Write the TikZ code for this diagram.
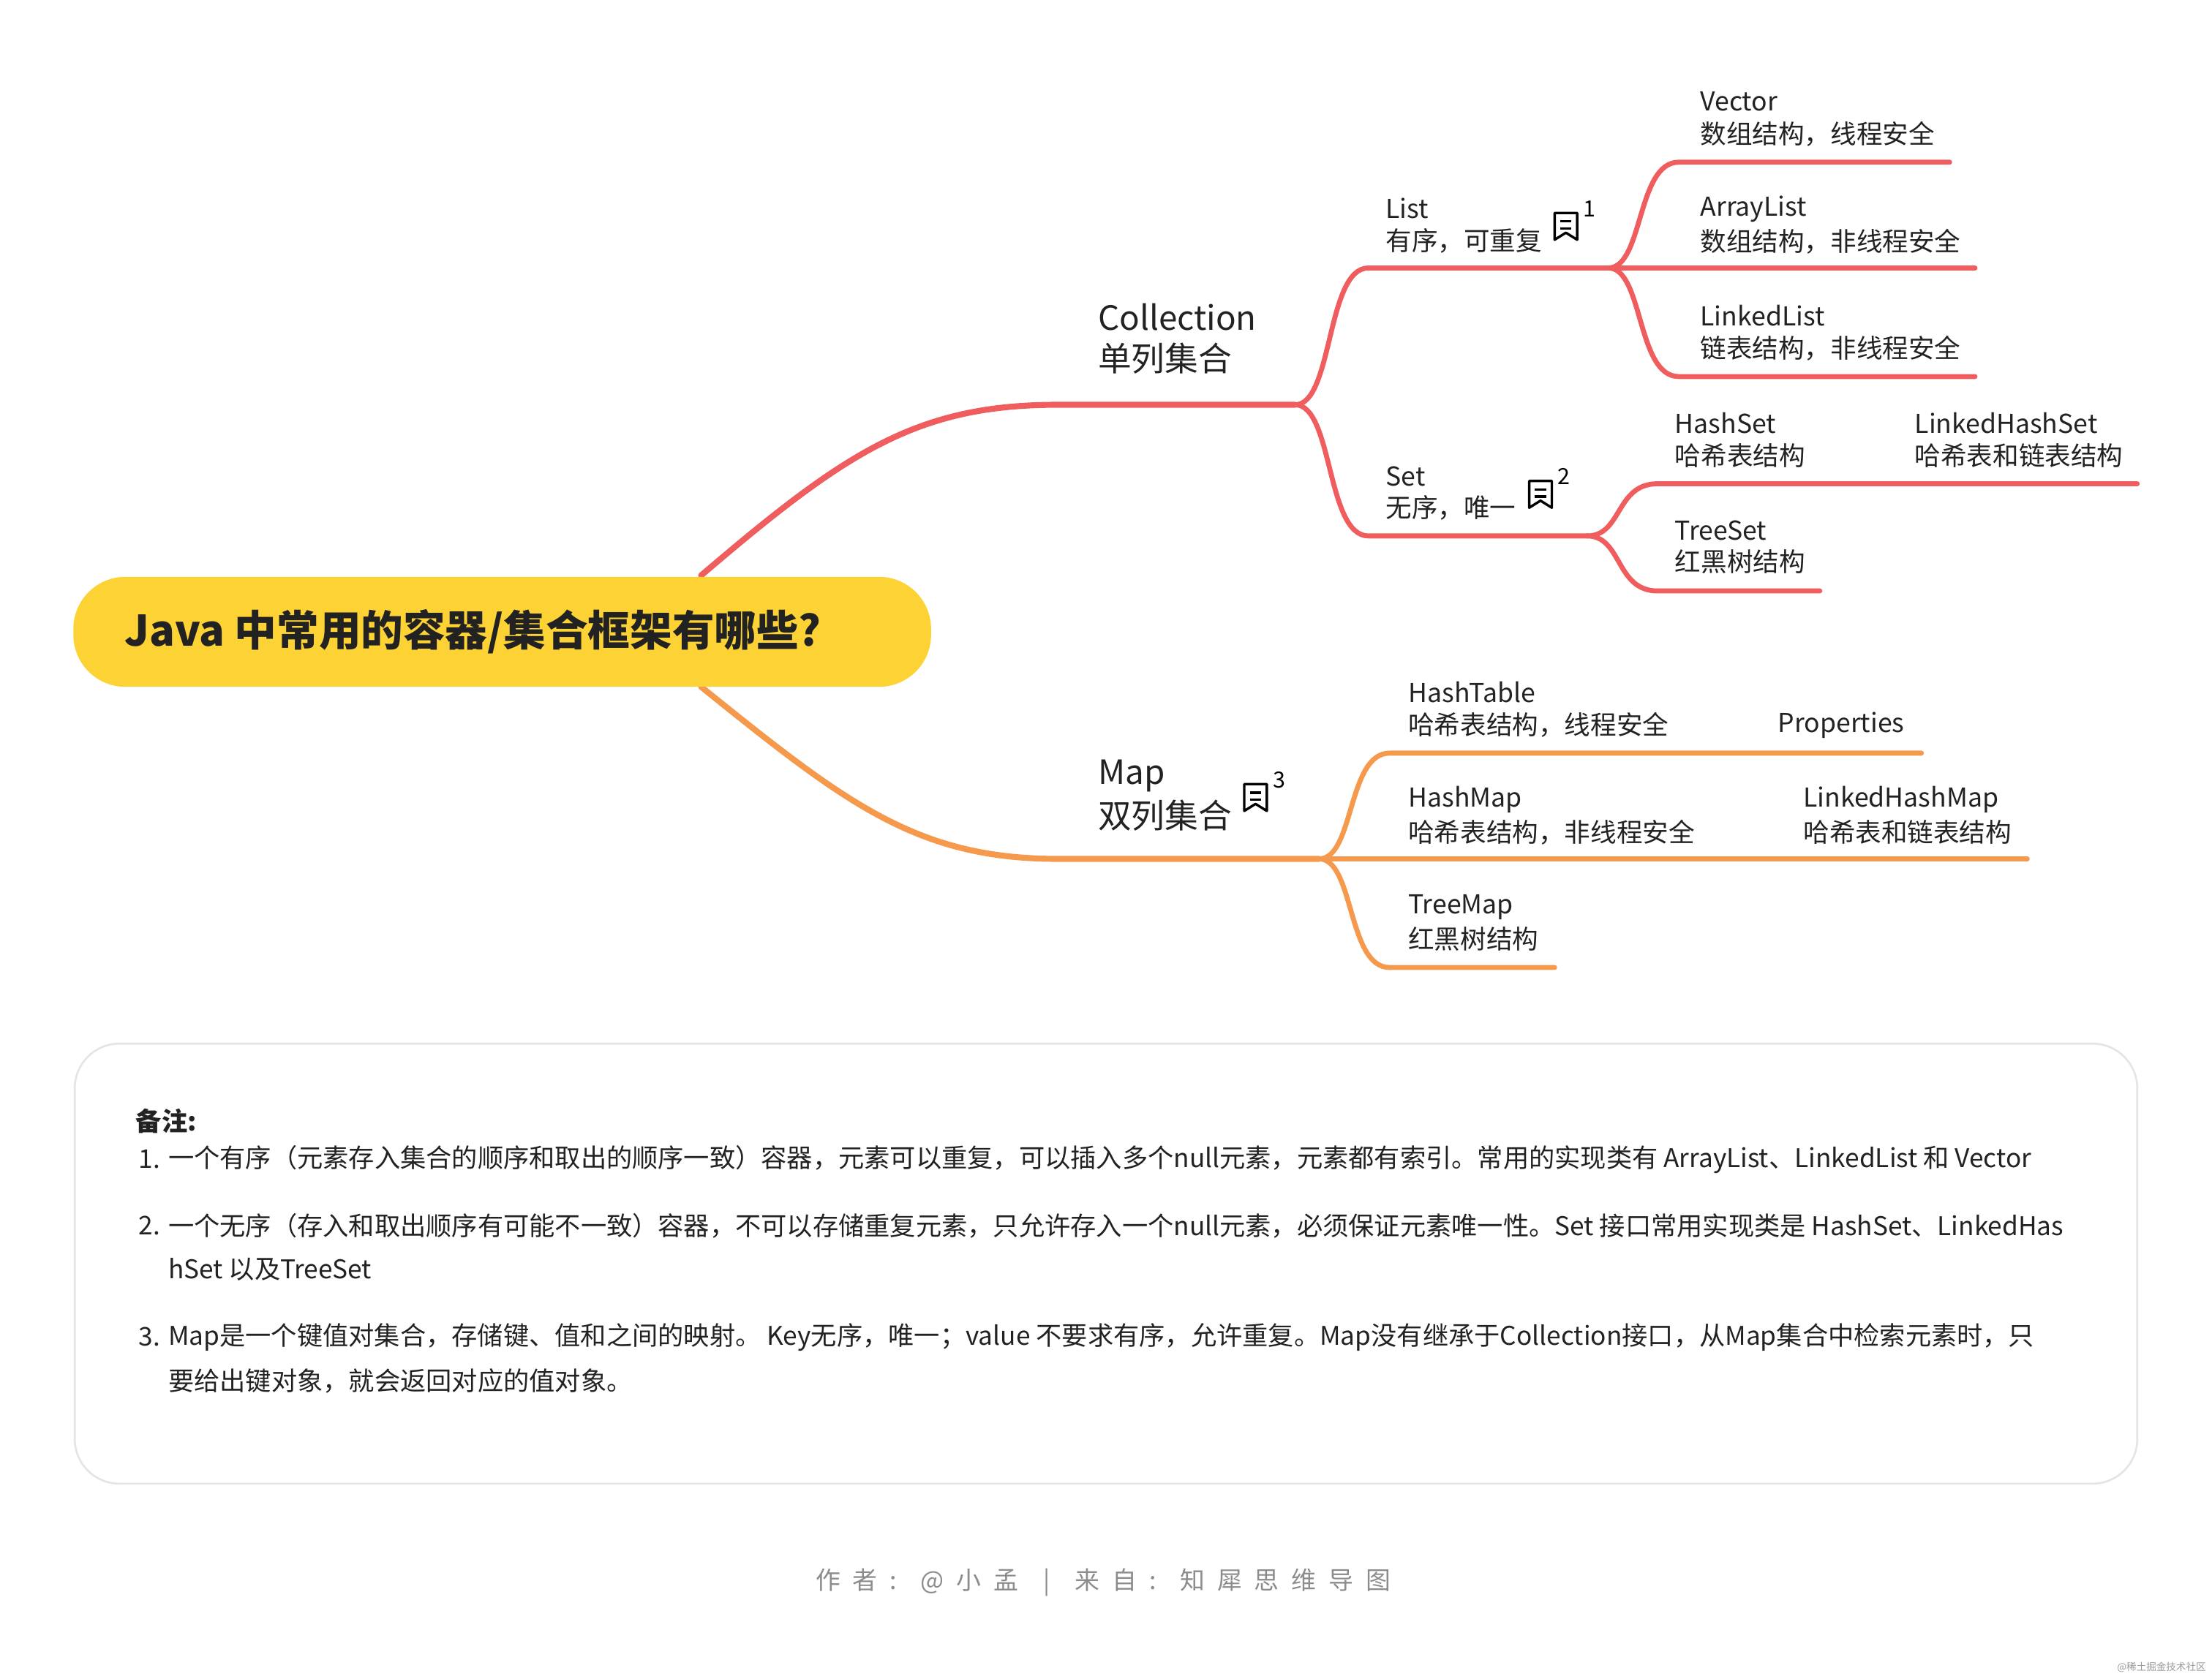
\documentclass[tikz,border=0pt]{standalone}
\usepackage{fontspec}
\setmainfont{Noto Sans CJK SC}
\definecolor{cred}{HTML}{EF5D5E}
\definecolor{corg}{HTML}{F5994C}
\definecolor{cyel}{HTML}{FCD234}
\definecolor{ctxt}{HTML}{222222}
\newcommand\noteicon[3]{%
  \draw[line width=1pt,line join=round] (#1-8,#2-9) -- (#1+8,#2-9) -- (#1+8,#2+10) -- (#1,#2+5) -- (#1-8,#2+10) -- cycle;
  \draw[line width=1pt] (#1-4,#2-3) -- (#1+4,#2-3) (#1-4,#2+2) -- (#1+4,#2+2);
  \node[anchor=west,inner sep=0pt,font=\fontsize{9}{10}\selectfont] at (#1+12,#2-12) {#3};}
\begin{document}
\begin{tikzpicture}[x=0.02cm,y=-0.02cm,
  lbl/.style={anchor=west,inner sep=0pt,text=ctxt,font=\fontsize{10.5}{12}\selectfont},
  big/.style={anchor=west,inner sep=0pt,text=ctxt,font=\fontsize{13.5}{15}\selectfont},
  note/.style={anchor=west,inner sep=0pt,text=ctxt,font=\fontsize{10.4}{12}\selectfont},
  rl/.style={cred,line width=2pt,line cap=round},
  ol/.style={corg,line width=2pt,line cap=round}]
\useasboundingbox (0,0) rectangle (1568,1190);
% branches
\coordinate (c0) at (497,408); \coordinate (c1) at (750,287); \coordinate (c2) at (918,287);
\draw[rl,line width=2.4pt] (c0) .. controls (600,320) and (650,287) .. (c1) -- (c2);
\coordinate (l1) at (1140,190); \coordinate (s1) at (1125,380);
\draw[rl] (c2) .. controls (945,287) and (940,190) .. (970,190) -- (l1);
\draw[rl] (c2) .. controls (945,287) and (940,380) .. (970,380) -- (s1);
\draw[rl] (l1) .. controls (1165,190) and (1160,115) .. (1190,115) -- (1382,115);
\draw[rl] (l1) -- (1400,190);
\draw[rl] (l1) .. controls (1165,190) and (1160,267) .. (1190,267) -- (1400,267);
\draw[rl] (s1) .. controls (1150,380) and (1145,343) .. (1175,343) -- (1515,343);
\draw[rl] (s1) .. controls (1150,380) and (1145,419) .. (1175,419) -- (1290,419);
\coordinate (m0) at (497,487); \coordinate (m1) at (750,609); \coordinate (m2) at (935,609);
\draw[ol,line width=2.4pt] (m0) .. controls (600,570) and (650,609) .. (m1) -- (m2);
\draw[ol] (m2) .. controls (960,609) and (955,534) .. (985,534) -- (1362,534);
\draw[ol] (m2) -- (1437,609);
\draw[ol] (m2) .. controls (960,609) and (955,686) .. (985,686) -- (1102,686);
% root
\node[fill=cyel,rounded corners=21pt,minimum width=608*0.02cm,minimum height=78*0.02cm,inner sep=0pt] (root) at (356,448) {};
\node[anchor=west,inner sep=0pt,font=\fontsize{17}{20}\selectfont\bfseries,text=ctxt] (rt) at (88,448) {Java 中常用的容器/集合框架有哪些?};
% labels
\node[big] (coll) at (778,225) {Collection};
\node[big] (coll2) at (778,254) {单列集合};
\node[big] (map) at (778,550) {Map};
\node[big] (map2) at (778,578) {双列集合};
\noteicon{890}{565}{3}
\node[lbl] (li) at (982,148) {List};
\node[lbl] (li2) at (982,171) {有序，可重复};
\noteicon{1110}{160}{1}
\node[lbl] (se) at (982,338) {Set};
\node[lbl] (se2) at (982,360) {无序，唯一};
\noteicon{1092}{350}{2}
\node[lbl] (ve) at (1205,72) {Vector};
\node[lbl] (ve2) at (1205,95) {数组结构，线程安全};
\node[lbl] (al) at (1205,148) {ArrayList};
\node[lbl] (al2) at (1205,171) {数组结构，非线程安全};
\node[lbl] (ll) at (1205,224) {LinkedList};
\node[lbl] (ll2) at (1205,247) {链表结构，非线程安全};
\node[lbl] (hs) at (1187,300) {HashSet};
\node[lbl] (hs2) at (1187,323) {哈希表结构};
\node[lbl] (lhs) at (1357,300) {LinkedHashSet};
\node[lbl] (lhs2) at (1357,323) {哈希表和链表结构};
\node[lbl] (ts) at (1187,376) {TreeSet};
\node[lbl] (ts2) at (1187,398) {红黑树结构};
\node[lbl] (ht) at (998,491) {HashTable};
\node[lbl] (ht2) at (998,514) {哈希表结构，线程安全};
\node[lbl] (pr) at (1260,514) {Properties};
\node[lbl] (hm) at (998,567) {HashMap};
\node[lbl] (hm2) at (998,590) {哈希表结构，非线程安全};
\node[lbl] (lhm) at (1278,567) {LinkedHashMap};
\node[lbl] (lhm2) at (1278,590) {哈希表和链表结构};
\node[lbl] (tm) at (998,643) {TreeMap};
\node[lbl] (tm2) at (998,666) {红黑树结构};
% notes box
\draw[draw=black!10,line width=0.8pt,rounded corners=18pt] (53,740) rectangle (1515,1052);
\node[note,font=\fontsize{10.4}{12}\selectfont\bfseries] (bz) at (96,795) {备注:};
\node[note] (n1) at (98,822) {1.};
\node[note] (n1a) at (119,822) {一个有序（元素存入集合的顺序和取出的顺序一致）容器，元素可以重复，可以插入多个null元素，元素都有索引。常用的实现类有 ArrayList、LinkedList 和 Vector};
\node[note] (n2) at (98,869) {2.};
\node[note] (n2a) at (119,869) {一个无序（存入和取出顺序有可能不一致）容器，不可以存储重复元素，只允许存入一个null元素，必须保证元素唯一性。Set 接口常用实现类是 HashSet、LinkedHas};
\node[note] (n2b) at (119,900) {hSet 以及TreeSet};
\node[note] (n3) at (98,948) {3.};
\node[note] (n3a) at (119,948) {Map是一个键值对集合，存储键、值和之间的映射。 Key无序，唯一；value 不要求有序，允许重复。Map没有继承于Collection接口，从Map集合中检索元素时，只};
\node[note] (n3b) at (119,979) {要给出键对象，就会返回对应的值对象。};
% footer
\node[inner sep=0pt,text=black!45,font=\fontsize{10}{12}\selectfont] (ft) at (782,1122) {作\,\,\,者\,\,\,:\,\,\,\, @\,\,\,小\,\,\,孟\,\,\,\,\,\,|\,\,\,\,\,\,来\,\,\,自\,\,\,:\,\,\,\, 知\,\,\,犀\,\,\,思\,\,\,维\,\,\,导\,\,\,图};
\node[anchor=east,inner sep=0pt,text=black!40,font=\fontsize{4}{5}\selectfont] (wm) at (1564,1182) {@稀土掘金技术社区};
\end{tikzpicture}
\end{document}
